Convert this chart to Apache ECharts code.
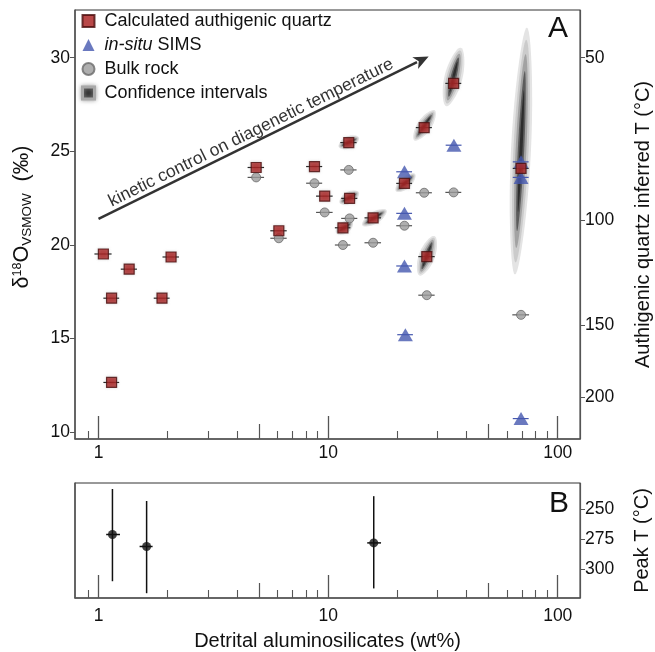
<!DOCTYPE html>
<html><head><meta charset="utf-8">
<script src="https://cdn.jsdelivr.net/npm/echarts@6/dist/echarts.min.js"></script>
<style>html,body{margin:0;padding:0;background:#fff}#c{width:655px;height:652px}</style>
</head><body><div id="c"></div>
<script>
// ================= DATA =================
// Panel A: calculated authigenic quartz
const quartzX = [1.05, 1.14, 1.36, 2.07, 1.89, 1.14, 4.86, 6.10, 8.72, 9.66, 12.3, 12.4, 11.6, 15.7, 21.5, 26.2, 26.9, 35.2, 69.2];
const quartzY = [19.52, 17.16, 18.71, 19.36, 17.16, 12.66, 24.14, 20.76, 24.19, 22.61, 25.47, 22.49, 20.92, 21.45, 23.29, 26.27, 19.38, 28.63, 24.09];
const quartzXErr = [0.09, 0.09, 0.11, 0.17, 0.15, 0.09, 0.4, 0.5, 0.7, 0.8, 1.0, 1.0, 0.9, 1.3, 1.7, 2.1, 2.2, 2.8, 5.5];
// Panel A: in-situ SIMS
const simsX = [35.3, 21.5, 21.5, 21.5, 21.7, 69.2, 69.2, 69.2];
const simsY = [25.33, 23.91, 21.69, 18.88, 15.21, 24.44, 23.61, 10.73];
const simsXErr = [2.8, 1.7, 1.7, 1.7, 1.7, 5.5, 5.5, 5.5];
// Panel A: bulk rock
const bulkX = [4.86, 6.10, 8.72, 9.66, 12.3, 12.4, 11.6, 15.7, 21.5, 26.2, 35.2, 26.9, 69.2];
const bulkY = [23.61, 20.36, 23.30, 21.74, 24.01, 21.42, 20.00, 20.12, 21.03, 22.79, 22.81, 17.32, 16.27];
const bulkXErr = [0.4, 0.5, 0.7, 0.8, 1.0, 1.0, 0.9, 1.3, 1.7, 2.1, 2.8, 2.2, 5.8];
// Panel A: confidence-interval extents (end points of the long axis, in data units)
const ciX1 = [32.9, 24.0, 25.2, 20.0, 65.2, 11.3, 11.4, 11.0, 14.3];
const ciY1 = [27.55, 25.68, 18.49, 22.93, 18.58, 25.27, 22.29, 20.69, 21.10];
const ciX2 = [37.6, 28.8, 28.8, 23.6, 73.3, 13.4, 13.4, 12.6, 17.7];
const ciY2 = [30.39, 27.10, 20.36, 23.73, 31.45, 25.70, 22.77, 21.17, 21.81];
// Panel A: trend arrow (start x, start y, end x, end y)
const trendArrow = [1.0, 21.39, 27.4, 30.07];
const trendText = 'kinetic control on diagenetic temperature';

// Panel B: peak temperature
const peakX = [1.15, 1.62, 15.8];
const peakXLo = [1.08, 1.51, 14.8];
const peakXHi = [1.24, 1.72, 17.0];
const peakT = [271, 281, 278];
const peakTLo = [233, 243, 239];
const peakTHi = [310, 320, 316];

// Tick labels
const xTickLabels = [1, 10, 100];
const xMidTicks = [5, 50];
const xMinorTicks = [0.9, 2, 3, 4, 6, 7, 8, 9, 20, 30, 40, 60, 70, 80, 90];
const d18OTicks = [10, 15, 20, 25, 30];
const tempTickLabels = [50, 100, 150, 200];
const tempTickD18O = [30.0, 21.33, 15.70, 11.86];
const peakTTicks = [250, 275, 300];

// ================= RENDER =================
const FONT = '"Liberation Sans", Arial, Helvetica, sans-serif';
const X_MIN = 0.79, X_MAX = 125;
const Y_MIN = 9.64, Y_MAX = 32.55;
const T_MIN = 228, T_MAX = 324;
const ciHalfWidthPx = [9, 7, 8, 6, 10, 6, 6, 6, 6];
const TICK_FS = 17.5, TITLE_FS = 20;
const SIMS_COLOR = '#4557af';

const chart = echarts.init(document.getElementById('c'), null, {renderer: 'canvas'});

function xAxes(gridIndex, showLabels) {
  const base = {type: 'log', logBase: 10, gridIndex, min: X_MIN, max: X_MAX, position: 'bottom', offset: 0,
    splitLine: {show: false}, axisLine: {show: false}};
  return [
    Object.assign({}, base, {
      axisLine: {show: true, onZero: false, lineStyle: {color: '#555', width: 1.5}},
      axisTick: {show: true, inside: true, length: 23, customValues: xTickLabels, lineStyle: {color: '#555', width: 1.3}},
      axisLabel: {show: true, customValues: xTickLabels, margin: gridIndex === 0 ? 5 : 9,
        fontSize: TICK_FS, color: '#111', fontFamily: FONT, formatter: v => String(Math.round(v))},
      name: showLabels ? 'Detrital aluminosilicates (wt%)' : '',
      nameLocation: 'middle', nameGap: 33,
      nameTextStyle: {fontSize: TITLE_FS, color: '#111', fontFamily: FONT}
    }),
    Object.assign({}, base, {
      axisTick: {show: true, inside: true, length: 15, customValues: xMidTicks, lineStyle: {color: '#555', width: 1.2}},
      axisLabel: {show: false}
    }),
    Object.assign({}, base, {
      axisTick: {show: true, inside: true, length: 8, customValues: xMinorTicks, lineStyle: {color: '#555', width: 1.1}},
      axisLabel: {show: false}
    })
  ];
}

function nearestIdx(arr, v) {
  let b = 0;
  for (let i = 1; i < arr.length; i++) if (Math.abs(arr[i] - v) < Math.abs(arr[b] - v)) b = i;
  return b;
}

// confidence blob drawing
const ciLayers = [
  {len: 1.0, w: 1.0, color: '#e4e4e4'},
  {len: 0.9, w: 0.76, color: '#cbcbcb'},
  {len: 0.78, w: 0.54, color: '#a2a2a2'},
  {len: 0.64, w: 0.32, color: '#5c5c5c'},
  {len: 0.48, w: 0.15, color: '#2e2e2e'}
];
function blobPoints(p1, p2, hw, layer) {
  const cx = (p1[0] + p2[0]) / 2, cy = (p1[1] + p2[1]) / 2;
  const dx = p2[0] - p1[0], dy = p2[1] - p1[1];
  const len = Math.hypot(dx, dy) || 1;
  const ux = dx / len, uy = dy / len, vx = -uy, vy = ux;
  const a = len / 2 * layer.len + hw * 0.3, b = hw * layer.w;
  const pts = [];
  for (let k = 0; k < 48; k++) {
    const t = k / 48 * Math.PI * 2;
    const c = Math.cos(t), s = Math.sin(t);
    const prof = 1 - 0.2 * c * c;
    pts.push([cx + a * c * ux + b * s * prof * vx, cy + a * c * uy + b * s * prof * vy]);
  }
  return pts;
}

const ciData = ciX1.map((x, i) => [x, ciY1[i], ciX2[i], ciY2[i], i]);
const errA = [];
quartzX.forEach((x, i) => errA.push([x, quartzY[i], x - quartzXErr[i], x + quartzXErr[i], 0]));
simsX.forEach((x, i) => errA.push([x, simsY[i], x - simsXErr[i], x + simsXErr[i], 1]));
bulkX.forEach((x, i) => errA.push([x, bulkY[i], x - bulkXErr[i], x + bulkXErr[i], 2]));
const errColors = ['#222', SIMS_COLOR, '#555'];

const peakData = peakX.map((x, i) => [x, peakT[i], peakXLo[i], peakXHi[i], peakTLo[i], peakTHi[i]]);

const option = {
  animation: false,
  backgroundColor: '#fff',
  textStyle: {fontFamily: FONT},
  grid: [
    {left: 75, top: 10, width: 505, height: 429, show: true, borderColor: '#333', borderWidth: 1,
      containLabel: false, outerBoundsMode: 'none'},
    {left: 75, top: 483, width: 505, height: 115, show: true, borderColor: '#333', borderWidth: 1,
      containLabel: false, outerBoundsMode: 'none'}
  ],
  xAxis: [].concat(xAxes(0, false), xAxes(1, true)),
  yAxis: [
    {type: 'value', gridIndex: 0, position: 'left', min: Y_MIN, max: Y_MAX, splitLine: {show: false},
      axisLine: {show: true, lineStyle: {color: '#555', width: 1.5}},
      axisTick: {show: true, length: 5, customValues: d18OTicks, lineStyle: {color: '#555'}},
      axisLabel: {customValues: d18OTicks, fontSize: TICK_FS, color: '#111', fontFamily: FONT, margin: 5},
      name: '{n|δ}{sup|18}{n|O}{sub|VSMOW}{n|  (‰)}', nameLocation: 'middle', nameRotate: 90, nameGap: 38,
      nameTextStyle: {color: '#111', fontFamily: FONT, padding: [0, 0, 0, 15], rich: {
        n: {fontSize: 21.5, lineHeight: 30, fontFamily: FONT, color: '#111'},
        sup: {fontSize: 12.5, lineHeight: 30, verticalAlign: 'top', padding: [4, 0, 0, 0], fontFamily: FONT, color: '#111'},
        sub: {fontSize: 13.5, lineHeight: 30, verticalAlign: 'bottom', padding: [0, 0, 3, 0], fontFamily: FONT, color: '#111'}
      }}
    },
    {type: 'value', gridIndex: 0, position: 'right', min: Y_MIN, max: Y_MAX, splitLine: {show: false},
      axisLine: {show: true, lineStyle: {color: '#555', width: 1.2}},
      axisTick: {show: true, length: 5, customValues: tempTickD18O, lineStyle: {color: '#555'}},
      axisLabel: {customValues: tempTickD18O, fontSize: TICK_FS, color: '#111', fontFamily: FONT, margin: 5,
        formatter: v => String(tempTickLabels[nearestIdx(tempTickD18O, v)])},
      name: 'Authigenic quartz inferred T (°C)', nameLocation: 'middle', nameRotate: 90, nameGap: 53,
      nameTextStyle: {fontSize: TITLE_FS, color: '#111', fontFamily: FONT}
    },
    {type: 'value', gridIndex: 1, position: 'left', min: T_MIN, max: T_MAX, inverse: true, splitLine: {show: false},
      axisLine: {show: true, lineStyle: {color: '#555', width: 1.5}},
      axisTick: {show: false}, axisLabel: {show: false}
    },
    {type: 'value', gridIndex: 1, position: 'right', min: T_MIN, max: T_MAX, inverse: true, splitLine: {show: false},
      axisLine: {show: true, lineStyle: {color: '#555', width: 1.2}},
      axisTick: {show: true, length: 5, customValues: peakTTicks, lineStyle: {color: '#555'}},
      axisLabel: {customValues: peakTTicks, fontSize: TICK_FS, color: '#111', fontFamily: FONT, margin: 5},
      name: 'Peak T (°C)', nameLocation: 'middle', nameRotate: 90, nameGap: 52,
      nameTextStyle: {fontSize: TITLE_FS, color: '#111', fontFamily: FONT}
    }
  ],
  legend: {
    orient: 'vertical', left: 81, top: 12, padding: 0, itemWidth: 12, itemHeight: 12, itemGap: 6,
    textStyle: {fontSize: 18, color: '#111', fontFamily: FONT, padding: [0, 0, 0, 5],
      rich: {i: {fontSize: 18, fontStyle: 'italic', color: '#111', fontFamily: FONT}}},
    formatter: name => name === 'in-situ SIMS' ? '{i|in-situ} SIMS' : name,
    selectedMode: false,
    data: [
      {name: 'Calculated authigenic quartz', icon: 'rect'},
      {name: 'in-situ SIMS', icon: 'triangle'},
      {name: 'Bulk rock', icon: 'circle'},
      {name: 'Confidence intervals', icon: 'rect', itemStyle: {color: '#333', borderColor: '#a8a8a8', borderWidth: 3,
        shadowBlur: 4, shadowColor: 'rgba(150,150,150,0.8)'}}
    ]
  },
  graphic: [
    {type: 'text', left: 548, top: 14, style: {text: 'A', fontSize: 30, fill: '#111', fontFamily: FONT}},
    {type: 'text', left: 549, top: 489, style: {text: 'B', fontSize: 30, fill: '#111', fontFamily: FONT}}
  ],
  series: [
    {
      name: 'Confidence intervals', type: 'custom', xAxisIndex: 0, yAxisIndex: 0, z: 1,
      itemStyle: {color: '#333'},
      encode: {x: [0, 2], y: [1, 3]},
      data: ciData,
      clip: true,
      renderItem: (params, api) => {
        const p1 = api.coord([api.value(0), api.value(1)]);
        const p2 = api.coord([api.value(2), api.value(3)]);
        const hw = ciHalfWidthPx[api.value(4)];
        return {type: 'group', children: ciLayers.map(L => ({
          type: 'polygon', shape: {points: blobPoints(p1, p2, hw, L), smooth: 0},
          style: {fill: L.color, stroke: null}
        }))};
      }
    },
    {
      name: 'trend', type: 'custom', xAxisIndex: 0, yAxisIndex: 0, z: 2, silent: true,
      encode: {x: [0, 2], y: [1, 3]},
      data: [trendArrow],
      renderItem: (params, api) => {
        const p1 = api.coord([api.value(0), api.value(1)]);
        const p2 = api.coord([api.value(2), api.value(3)]);
        const dx = p2[0] - p1[0], dy = p2[1] - p1[1];
        const len = Math.hypot(dx, dy);
        const ux = dx / len, uy = dy / len, nx = uy, ny = -ux;
        const headL = 15, headW = 6.5;
        const base = [p2[0] - ux * headL, p2[1] - uy * headL];
        const mid = [(p1[0] + p2[0]) / 2, (p1[1] + p2[1]) / 2];
        const tpos = [mid[0] - ux * 9 + nx * 10, mid[1] - uy * 9 + ny * 10];
        return {type: 'group', children: [
          {type: 'line', shape: {x1: p1[0], y1: p1[1], x2: base[0] + ux * 2, y2: base[1] + uy * 2},
            style: {stroke: '#333', lineWidth: 2.5}},
          {type: 'polygon', shape: {points: [p2,
            [base[0] + nx * headW, base[1] + ny * headW],
            [base[0] + ux * 4, base[1] + uy * 4],
            [base[0] - nx * headW, base[1] - ny * headW]]},
            style: {fill: '#333'}},
          {type: 'text', x: tpos[0], y: tpos[1], rotation: Math.atan2(-dy, dx),
            style: {text: trendText, fontSize: 17.5, fill: '#333', fontFamily: FONT,
              align: 'center', verticalAlign: 'middle'}}
        ]};
      }
    },
    {
      name: 'errA', type: 'custom', xAxisIndex: 0, yAxisIndex: 0, z: 2, silent: true,
      encode: {x: [0, 2, 3], y: 1},
      data: errA,
      renderItem: (params, api) => {
        const y = api.value(1);
        const a = api.coord([api.value(2), y]);
        const b = api.coord([api.value(3), y]);
        return {type: 'line', shape: {x1: a[0], y1: a[1], x2: b[0], y2: b[1]},
          style: {stroke: errColors[api.value(4)], lineWidth: 1.2}};
      }
    },
    {
      name: 'Bulk rock', type: 'scatter', xAxisIndex: 0, yAxisIndex: 0, z: 3,
      symbol: 'circle', symbolSize: 9,
      itemStyle: {color: '#9b9b9b', borderColor: '#6a6a6a', borderWidth: 1},
      data: bulkX.map((x, i) => [x, bulkY[i]])
    },
    {
      name: 'in-situ SIMS', type: 'scatter', xAxisIndex: 0, yAxisIndex: 0, z: 4,
      symbol: 'triangle', symbolSize: [15, 13],
      itemStyle: {color: SIMS_COLOR},
      data: simsX.map((x, i) => [x, simsY[i]])
    },
    {
      name: 'Calculated authigenic quartz', type: 'scatter', xAxisIndex: 0, yAxisIndex: 0, z: 5,
      symbol: 'rect', symbolSize: 10,
      itemStyle: {color: '#a81a1a', borderColor: '#4a0c0c', borderWidth: 1.2,
        shadowBlur: 3, shadowColor: 'rgba(150,150,150,0.45)'},
      data: quartzX.map((x, i) => [x, quartzY[i]])
    },
    {
      name: 'errB', type: 'custom', xAxisIndex: 3, yAxisIndex: 3, z: 2, silent: true,
      encode: {x: [0, 2, 3], y: [1, 4, 5]},
      data: peakData,
      renderItem: (params, api) => {
        const x = api.value(0), t = api.value(1);
        const h1 = api.coord([api.value(2), t]), h2 = api.coord([api.value(3), t]);
        const v1 = api.coord([x, api.value(4)]), v2 = api.coord([x, api.value(5)]);
        const st = {stroke: '#111', lineWidth: 1.5};
        return {type: 'group', children: [
          {type: 'line', shape: {x1: h1[0], y1: h1[1], x2: h2[0], y2: h2[1]}, style: st},
          {type: 'line', shape: {x1: v1[0], y1: v1[1], x2: v2[0], y2: v2[1]}, style: st}
        ]};
      }
    },
    {
      name: 'Peak T', type: 'scatter', xAxisIndex: 3, yAxisIndex: 3, z: 3,
      symbol: 'circle', symbolSize: 9, itemStyle: {color: '#111'},
      data: peakX.map((x, i) => [x, peakT[i]])
    }
  ]
};
chart.setOption(option);
</script></body></html>
